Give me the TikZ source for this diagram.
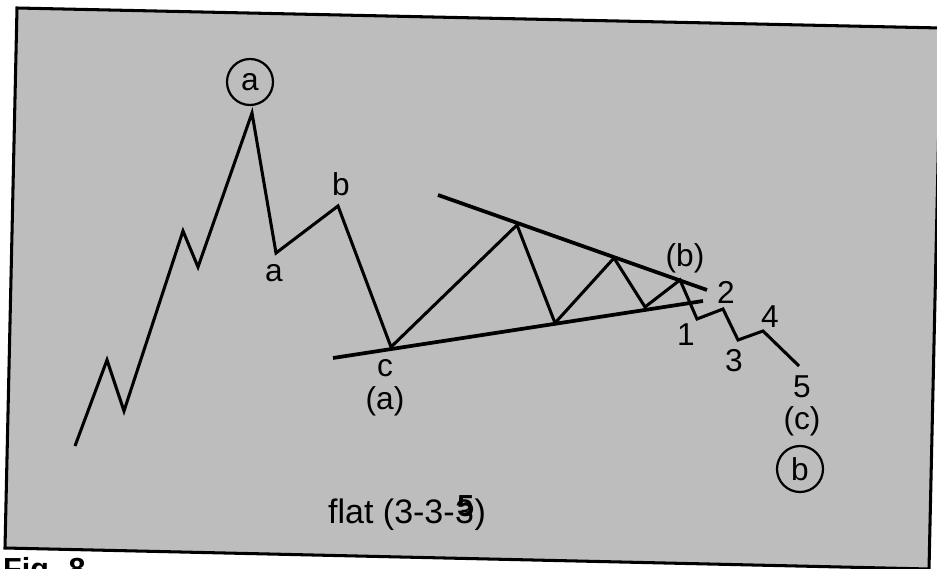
\documentclass[tikz,border=0pt]{standalone}
\usepackage{fontspec}
\setmainfont{Liberation Sans}
\usetikzlibrary{positioning}
\definecolor{paper}{gray}{0.74}
\tikzset{frame/.style={draw=black,fill=paper,line width=2.6pt},wave/.style={line width=2.6pt,line join=miter},trend/.style={line width=3.2pt},lbl/.style={font=\fontsize{27}{30}\selectfont,inner sep=0pt},ring/.style={lbl,circle,draw,line width=1.9pt,minimum size=1.38cm}}

\begin{document}
\begin{tikzpicture}[x=0.03cm,y=-0.03cm]
\useasboundingbox (0,0) rectangle (937,569);
\clip (0,0) rectangle (937,569);
\draw[frame] (17,8) -- (941,28) -- (929,569) -- (5,548) -- cycle;
% turning points of the wave
\foreach \n/\x/\y in {0/75/446,1/107/360,2/124/411,3/183/231,4/198/267,5/252/113,6/276/253,7/338/206,8/391/347,9/517/225,10/555/323,11/614/258,12/645/307,13/680/280,14/697/319,15/723/309,16/738/340,17/763/331,18/799/366}
\coordinate (w\n) at (\x,\y);
\coordinate (lo1) at (333,358); \coordinate (lo2) at (703,301);
\coordinate (up1) at (438,195); \coordinate (up2) at (707,290);
\draw[trend] (lo1) -- (lo2);
\draw[trend] (up1) -- (up2);
\draw[wave] (w0) \foreach \n in {1,...,18}{ -- (w\n)};
% labels
\node[ring] (ringa) at (250,82) {a};
\node[ring] (ringb) at (800,469) {b};
\node[lbl] (la) at (274,273) {a};
\node[lbl] (lb) at (341,184) {b};
\node[lbl] (lc) at (385,368) {c};
\node[lbl] (pa) at (385,401) {(a)};
\node[lbl] (pb) at (685,258) {(b)};
\node[lbl] (pc) at (802,421) {(c)};
\node[lbl] (n1) at (686,335) {1};
\node[lbl] (n2) at (726,292) {2};
\node[lbl] (n3) at (734,361) {3};
\node[lbl] (n4) at (770,317) {4};
\node[lbl] (n5) at (802,387) {5};
\node[lbl,font=\fontsize{29}{32}\selectfont,anchor=base west] (flat) at (328,523) {flat (3-3-};
\node[lbl,font=\fontsize{29}{32}\selectfont,anchor=base west] (last) at (flat.base east) {3};
\node[lbl,font=\fontsize{29}{32}\selectfont,anchor=base west] (close) at (last.base east) {)};
\node[lbl,font=\bfseries\fontsize{26}{30}\selectfont] (five) at ([shift={(1,-5)}]last.center) {5};
\node[lbl,font=\bfseries\fontsize{26}{30}\selectfont,anchor=north west] (fig) at (3,557) {Fig. 8};
\end{tikzpicture}
\end{document}
